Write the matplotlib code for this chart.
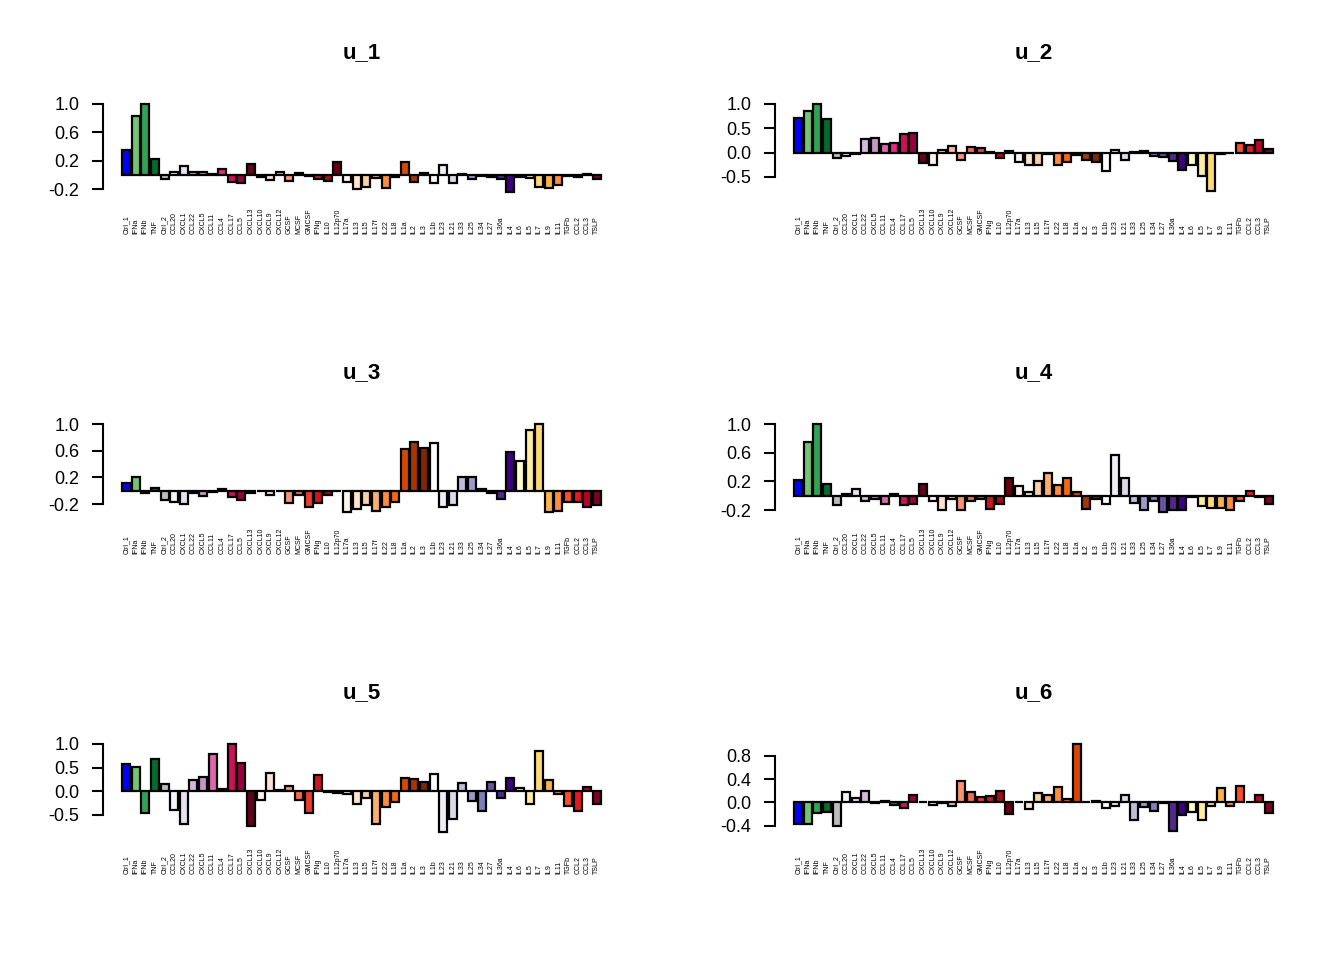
import matplotlib
matplotlib.use("Agg")
import matplotlib.pyplot as plt
import matplotlib.transforms as mtransforms

plt.rcParams["font.family"] = ["Liberation Sans", "DejaVu Sans"]

# -----------------------------
# Data
# -----------------------------
CATEGORIES = [
    "Ctrl_1", "IFNa", "IFNb", "TNF", "Ctrl_2", "CCL20", "CXCL1", "CCL22", "CXCL5", "CCL11",
    "CCL4", "CCL17", "CCL5", "CXCL13", "CXCL10", "CXCL9", "CXCL12", "GCSF", "MCSF", "GMCSF",
    "IFNg", "IL10", "IL12p70", "IL17a", "IL13", "IL15", "IL17f", "IL22", "IL18", "IL1a",
    "IL2", "IL3", "IL1b", "IL23", "IL21", "IL33", "IL25", "IL34", "IL27", "IL36a",
    "IL4", "IL6", "IL5", "IL7", "IL9", "IL11", "TGFb", "CCL2", "CCL3", "TSLP",
]

BAR_COLORS = [
    "#0000FF", "#74C476", "#31A354", "#006D2C", "#BDBDBD",
    "#F7F4F9", "#E7E1EF", "#D4B9DA", "#C994C7", "#DF65B0",
    "#E7298A", "#CE1256", "#980043", "#67001F",
    "#FFF5F0", "#FEE0D2", "#FCBBA1", "#FC9272", "#FB6A4A",
    "#EF3B2C", "#CB181D", "#A50F15", "#67000D",
    "#FFF5EB", "#FEE6CE", "#FDD0A2", "#FDAE6B", "#FD8D3C",
    "#F16913", "#D94801", "#A63603", "#7F2704",
    "#FCFBFD", "#EFEDF5", "#DADAEB", "#BCBDDC", "#9E9AC8",
    "#807DBA", "#6A51A3", "#54278F", "#3F007D",
    "#FFFFCC", "#FFEDA0", "#FED976", "#FEB24C", "#FD8D3C",
    "#FC4E2A", "#E31A1C", "#BD0026", "#800026",
]

u_1 = [
    0.36, 0.83, 1.00, 0.22, -0.06, 0.05, 0.13, 0.05, 0.05, 0.02,
    0.08, -0.10, -0.11, 0.15, -0.03, -0.07, 0.05, -0.08, 0.03, -0.01,
    -0.05, -0.08, 0.19, -0.10, -0.20, -0.16, -0.04, -0.18, -0.03, 0.18,
    -0.09, 0.03, -0.11, 0.14, -0.11, 0.01, -0.05, -0.01, -0.03, -0.06,
    -0.23, -0.03, -0.04, -0.16, -0.18, -0.14, -0.01, -0.03, 0.01, -0.05,
]

u_2 = [
    0.71, 0.85, 1.00, 0.70, -0.12, -0.08, -0.03, 0.28, 0.30, 0.17,
    0.20, 0.38, 0.40, -0.22, -0.25, 0.05, 0.13, -0.15, 0.12, 0.10,
    0.02, -0.12, 0.04, -0.20, -0.25, -0.25, -0.03, -0.25, -0.20, -0.05,
    -0.15, -0.20, -0.38, 0.05, -0.15, 0.02, 0.03, -0.08, -0.10, -0.18,
    -0.35, -0.25, -0.48, -0.80, -0.02, 0.00, 0.20, 0.15, 0.25, 0.08,
]

u_3 = [
    0.11, 0.21, -0.03, 0.04, -0.14, -0.17, -0.20, -0.03, -0.08, -0.02,
    0.03, -0.09, -0.14, -0.03, -0.01, -0.06, -0.01, -0.18, -0.06, -0.25,
    -0.18, -0.07, -0.01, -0.31, -0.27, -0.21, -0.30, -0.24, -0.17, 0.62,
    0.73, 0.64, 0.71, -0.24, -0.21, 0.21, 0.21, 0.02, -0.03, -0.12,
    0.58, 0.45, 0.91, 1.00, -0.31, -0.30, -0.17, -0.17, -0.24, -0.22,
]

u_4 = [
    0.22, 0.75, 1.00, 0.16, -0.13, 0.02, 0.10, -0.08, -0.05, -0.12,
    0.03, -0.13, -0.12, 0.17, -0.08, -0.20, -0.05, -0.20, -0.07, -0.05,
    -0.18, -0.12, 0.25, 0.13, 0.05, 0.20, 0.32, 0.15, 0.25, 0.05,
    -0.18, -0.05, -0.12, 0.57, 0.25, -0.10, -0.20, -0.08, -0.22, -0.20,
    -0.20, -0.02, -0.15, -0.17, -0.17, -0.20, -0.08, 0.07, -0.02, -0.12,
]

u_5 = [
    0.57, 0.52, -0.47, 0.69, 0.14, -0.40, -0.69, 0.23, 0.29, 0.79,
    0.04, 1.00, 0.60, -0.75, -0.18, 0.39, 0.03, 0.10, -0.18, -0.47,
    0.35, -0.01, -0.04, -0.06, -0.27, -0.15, -0.69, -0.34, -0.24, 0.27,
    0.26, 0.20, 0.37, -0.86, -0.60, 0.17, -0.22, -0.43, 0.20, -0.15,
    0.27, 0.07, -0.27, 0.86, 0.23, -0.07, -0.32, -0.42, 0.09, -0.27,
]

u_6 = [
    -0.37, -0.37, -0.18, -0.16, -0.40, 0.17, 0.07, 0.19, -0.02, 0.02,
    -0.04, -0.09, 0.13, 0.01, -0.05, -0.02, -0.07, 0.37, 0.18, 0.09,
    0.11, 0.20, -0.20, 0.01, -0.12, 0.16, 0.13, 0.26, 0.05, 1.00,
    0.01, 0.03, -0.10, -0.07, 0.12, -0.30, -0.08, -0.15, -0.01, -0.50,
    -0.22, -0.16, -0.30, -0.06, 0.24, -0.07, 0.28, 0.01, 0.12, -0.18,
]

PANEL_TITLES = ["u_1", "u_2", "u_3", "u_4", "u_5", "u_6"]
PANEL_VALUES = [u_1, u_2, u_3, u_4, u_5, u_6]
PANEL_TICKS = [
    [-0.2, 0.2, 0.6, 1.0],
    [-0.5, 0.0, 0.5, 1.0],
    [-0.2, 0.2, 0.6, 1.0],
    [-0.2, 0.2, 0.6, 1.0],
    [-0.5, 0.0, 0.5, 1.0],
    [-0.4, 0.0, 0.4, 0.8],
]

# -----------------------------
# Layout (pixels, 1344 x 960)
# -----------------------------
W, H = 1344, 960
ROW_H = 320
COL_W = 672
PLOT_LEFT = 103
PLOT_WIDTH = 517
PLOT_TOP = 100.5
PLOT_HEIGHT = 94.5
TITLE_Y = 53
LABEL_BOTTOM = 234

fig = plt.figure(figsize=(W / 100, H / 100), dpi=100)

n = len(CATEGORIES)
centers = [0.7 + 1.2 * i for i in range(n)]
x_lo, x_hi = 0.2, 0.2 + 1.2 * n - 0.2
x_pad = 0.04 * (x_hi - x_lo)

for k, (title, vals, ticks) in enumerate(zip(PANEL_TITLES, PANEL_VALUES, PANEL_TICKS)):
    row, col = divmod(k, 2)
    left_px = col * COL_W + PLOT_LEFT
    top_px = row * ROW_H + PLOT_TOP
    ax = fig.add_axes([
        left_px / W,
        1 - (top_px + PLOT_HEIGHT) / H,
        PLOT_WIDTH / W,
        PLOT_HEIGHT / H,
    ])

    ax.bar(centers, vals, width=1.0, color=BAR_COLORS,
           edgecolor="black", linewidth=1.6, clip_on=False)

    lo = min(min(vals), 0.0)
    hi = max(max(vals), 0.0)
    pad = 0.04 * (hi - lo)
    ax.set_ylim(lo - pad, hi + pad)
    ax.set_xlim(x_lo - x_pad, x_hi + x_pad)

    for side in ["top", "right", "bottom"]:
        ax.spines[side].set_visible(False)
    ax.spines["left"].set_bounds(ticks[0], ticks[-1])
    ax.spines["left"].set_linewidth(1.5)
    ax.set_xticks([])
    ax.set_yticks(ticks)
    ax.set_yticklabels([f"{t:.1f}" for t in ticks], fontsize=13)
    ax.tick_params(axis="y", length=8, width=1.5, pad=9)
    ax.patch.set_visible(False)

    # rotated category names, bottom aligned like the source
    trans = mtransforms.blended_transform_factory(ax.transData, fig.transFigure)
    y_lab = 1 - (row * ROW_H + LABEL_BOTTOM) / H
    for xc, name in zip(centers, CATEGORIES):
        ax.text(xc, y_lab, name, transform=trans, rotation=90,
                ha="center", va="bottom", fontsize=5, color="black")

    fig.text((left_px + PLOT_WIDTH / 2) / W, 1 - (row * ROW_H + TITLE_Y) / H,
             title, ha="center", va="center", fontsize=16, fontweight="bold")

fig.savefig("out.png", dpi=100)
